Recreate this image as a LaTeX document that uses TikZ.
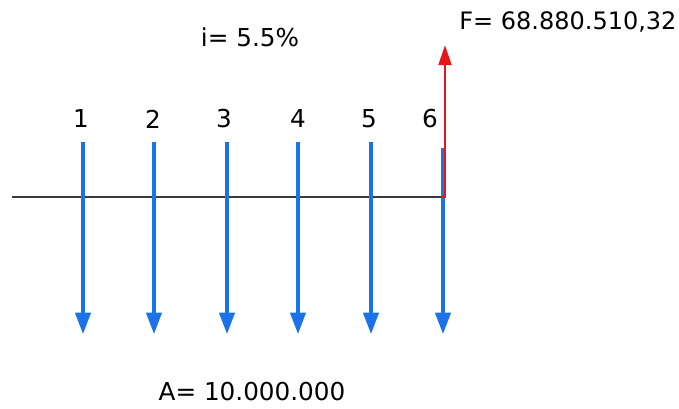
\documentclass[tikz,border=0pt]{standalone}
\usepackage{fontspec}
\setmainfont{DejaVu Sans}
\usetikzlibrary{arrows.meta}

\definecolor{flowblue}{HTML}{1A73E8}
\definecolor{flowred}{HTML}{E8161B}
\definecolor{axisgray}{HTML}{3A3A3A}

\begin{document}
\begin{tikzpicture}[x=0.75pt, y=-0.75pt,
    label/.style={font=\fontsize{18.5}{22}\selectfont, inner sep=0pt},
    payment/.style={-{Triangle[width=11.5pt,length=16pt]}, line width=2.3pt, color=flowblue},
    future/.style={-{Triangle[width=9.5pt,length=15pt]}, line width=2.1pt, color=flowred}
]
    \useasboundingbox (0,0) rectangle (679,408);

    % Time line
    \coordinate (start) at (12,197);
    \coordinate (end)   at (441,197);
    \draw[line width=1.5pt, color=axisgray] (start) -- (end);

    % Periods
    \node[label] (p1) at (81,119)  {1};
    \node[label] (p2) at (153,119) {2};
    \node[label] (p3) at (224,119) {3};
    \node[label] (p4) at (298,119) {4};
    \node[label] (p5) at (369,119) {5};
    \node[label] (p6) at (430,119) {6};

    % Payments: tops and tips
    \coordinate (t1) at (83,142);  \coordinate (b1) at (83,334);
    \coordinate (t2) at (154,142); \coordinate (b2) at (154,334);
    \coordinate (t3) at (227,142); \coordinate (b3) at (227,334);
    \coordinate (t4) at (298,142); \coordinate (b4) at (298,334);
    \coordinate (t5) at (371,142); \coordinate (b5) at (371,334);
    \coordinate (t6) at (443,148); \coordinate (b6) at (443,334);

    \draw[payment] (t1) -- (b1);
    \draw[payment] (t2) -- (b2);
    \draw[payment] (t3) -- (b3);
    \draw[payment] (t4) -- (b4);
    \draw[payment] (t5) -- (b5);
    \draw[payment] (t6) -- (b6);

    % Future value
    \coordinate (ftip) at (445,45);
    \draw[future] (end) -| (ftip);

    % Labels
    \node[label] (rate) at (250,37)  {i= 5.5\%};
    \node[label, font=\fontsize{18}{21}\selectfont] (fv) at (568,22) {F= 68.880.510,32};
    \node[label] (pmt)  at (252,392) {A= 10.000.000};
\end{tikzpicture}
\end{document}
